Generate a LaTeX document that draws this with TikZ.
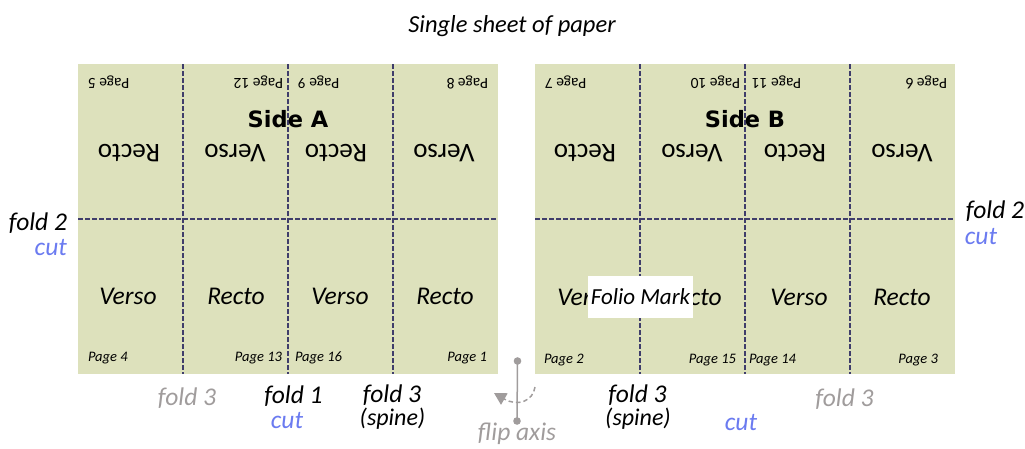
\documentclass[tikz,border=0pt]{standalone}
\usepackage{fontspec}
\setmainfont{Carlito}
\newfontfamily\headfont{DejaVu Sans}
\usetikzlibrary{arrows.meta}
\definecolor{sheet}{HTML}{DDE1BC}
\definecolor{foldline}{HTML}{3F3D6B}
\definecolor{greylbl}{HTML}{A09C9C}
\definecolor{cutblue}{HTML}{6B7BF0}

\begin{document}
\begin{tikzpicture}[x=1pt,y=-1pt,
  every node/.style={inner sep=0pt, outer sep=0pt},
  paper/.style={fill=sheet, draw=none, minimum width=420pt, minimum height=309.5pt, anchor=north west},
  crease/.style={draw=foldline, line width=1.7pt, dash pattern=on 4.5pt off 2.5pt},
  lbl/.style={font=\fontsize{25.5}{29}\selectfont\itshape, anchor=base},
  upside/.style={rotate=180, font=\fontsize{27}{30}\selectfont},
  pagelbl/.style={font=\fontsize{14.5}{16}\selectfont\itshape},
  toppage/.style={rotate=180, font=\fontsize{15.5}{17}\selectfont},
  sidelbl/.style={font=\headfont\bfseries\fontsize{22.5}{26}\selectfont, anchor=base},
  greytext/.style={text=greylbl},
  cuttext/.style={text=cutblue},
  axisline/.style={draw=greylbl, line width=1.5pt},
]
\useasboundingbox (0,0) rectangle (1025,448);

% title
\node[lbl, font=\fontsize{24.5}{28}\selectfont\itshape] (title) at (512,32) {Single sheet of paper};

% the two sides of the sheet
\node[paper] (sheetA) at (78,64) {};
\node[paper] (sheetB) at (535,64) {};

% creases
\draw[crease] (sheetA.west |- 0,219) -- (sheetA.east |- 0,219);
\draw[crease] (sheetB.west |- 0,219) -- (sheetB.east |- 0,219);
\foreach \x in {183,288,393,640,745,850}
  \draw[crease] (\x,64) -- (\x,373.5);

% side headings
\node[sidelbl] (sideA) at (288,127) {Side A};
\node[sidelbl] (sideB) at (745,127) {Side B};

% upper half: printed upside down
\node[upside] (uA1) at (129,153) {Recto};
\node[upside] (uA2) at (235,153) {Verso};
\node[upside] (uA3) at (336,153) {Recto};
\node[upside] (uA4) at (444,153) {Verso};
\node[upside] (uB1) at (585,153) {Recto};
\node[upside] (uB2) at (692,153) {Verso};
\node[upside] (uB3) at (795,153) {Recto};
\node[upside] (uB4) at (902,153) {Verso};

\node[toppage, anchor=east] (p5)  at (88,82)  {Page 5};
\node[toppage, anchor=west] (p12) at (283,82) {Page 12};
\node[toppage, anchor=east] (p9)  at (298,82) {Page 9};
\node[toppage, anchor=west] (p8)  at (488,82) {Page 8};
\node[toppage, anchor=east] (p7)  at (545,82) {Page 7};
\node[toppage, anchor=west] (p10) at (740,82) {Page 10};
\node[toppage, anchor=east] (p11) at (752,82) {Page 11};
\node[toppage, anchor=west] (p6)  at (947,82) {Page 6};

% lower half
\node[lbl] (lA1) at (128,304) {Verso};
\node[lbl] (lA2) at (236,304) {Recto};
\node[lbl] (lA3) at (340,304) {Verso};
\node[lbl] (lA4) at (445,304) {Recto};
\node[lbl] (lB1) at (586,305) {Verso};
\node[lbl] (lB2) at (693,305) {Recto};
\node[lbl] (lB3) at (799,305) {Verso};
\node[lbl] (lB4) at (902,305) {Recto};

\node[pagelbl, anchor=base west] (p4)  at (88,361)  {Page 4};
\node[pagelbl, anchor=base east] (p13) at (282,361) {Page 13};
\node[pagelbl, anchor=base west] (p16) at (295,361) {Page 16};
\node[pagelbl, anchor=base east] (p1)  at (487,361) {Page 1};
\node[pagelbl, anchor=base west] (p2)  at (544,363) {Page 2};
\node[pagelbl, anchor=base east] (p15) at (736,363) {Page 15};
\node[pagelbl, anchor=base west] (p14) at (749,363) {Page 14};
\node[pagelbl, anchor=base east] (p3)  at (938,363) {Page 3};

% folio mark
\node[fill=white, minimum width=105pt, minimum height=42pt,
      font=\fontsize{23}{26}\selectfont\itshape] (folio) at (640.5,297) {Folio Mark};

% fold 2 labels
\node[lbl, anchor=base east] (f2L) at (67,230) {fold 2};
\node[lbl, anchor=base east, cuttext] (cutL) at (67,255) {cut};
\node[lbl] (f2R) at (995,218) {fold 2};
\node[lbl, cuttext] (cutR) at (981,244) {cut};

% labels under the sheets
\node[lbl, greytext] (f3a) at (187,405) {fold 3};
\node[lbl] (f1) at (293.5,403) {fold 1};
\node[lbl, cuttext] (cut1) at (287,428) {cut};
\node[lbl] (f3b) at (392,402) {fold 3};
\node[lbl, font=\fontsize{24}{28}\selectfont\itshape] (spA) at (392.5,425) {(spine)};
\node[lbl] (f3c) at (637.5,402) {fold 3};
\node[lbl, font=\fontsize{24}{28}\selectfont\itshape] (spB) at (638,425) {(spine)};
\node[lbl, cuttext] (cut2) at (741,430) {cut};
\node[lbl, greytext] (f3d) at (844.5,406) {fold 3};

% flip axis
\coordinate (axTop) at (517.5,361);
\coordinate (axBot) at (517,421);
\coordinate (arcStart) at (535,387);
\coordinate (arcEnd) at (494,393);
\draw[axisline] (axTop) -- (axBot);
\fill[greylbl] (axTop) circle (3.8pt) (axBot) circle (3.8pt);
\draw[axisline, dash pattern=on 4.5pt off 3pt, -{Triangle[length=12pt,width=13pt]}]
  (arcStart) .. controls (533,401) and (518,407) .. (arcEnd);
\node[lbl, greytext] (flip) at (517,440) {flip axis};
\end{tikzpicture}
\end{document}
